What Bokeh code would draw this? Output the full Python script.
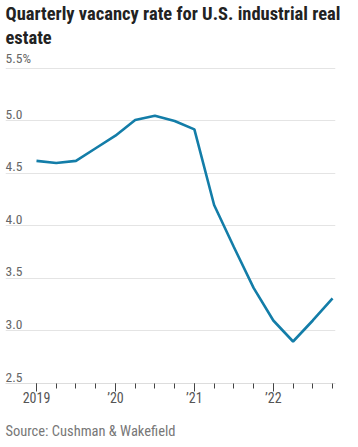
from bokeh.plotting import figure
from bokeh.models import FixedTicker, Title, ColumnDataSource
from bokeh.core.properties import value
from bokeh.embed import file_html
from bokeh.resources import INLINE

quarters = list(range(16))
vacancy = [4.62, 4.60, 4.62, 4.74, 4.86, 5.01, 5.05, 5.00, 4.92, 4.20, 3.80, 3.41, 3.10, 2.90, 3.10, 3.31]
y_ticks = [2.5, 3.0, 3.5, 4.0, 4.5, 5.0, 5.5]
y_labels = ["2.5", "3.0", "3.5", "4.0", "4.5", "5.0", "5.5%"]
x_major = [0, 4, 8, 12]
x_labels = {0: "2019", 4: "\u201920", 8: "\u201921", 12: "\u201922"}

FONT = "Roboto Condensed"
TFONT = "Roboto Condensed"

p = figure(width=342, height=439, output_backend="svg", toolbar_location=None,
           x_range=(-1.57, 15.15), y_range=(2.5, 5.69),
           min_border_left=5, min_border_right=7, min_border_top=0, min_border_bottom=0)
p.outline_line_color = None
p.background_fill_color = "white"
p.title = None

p.line(quarters, vacancy, line_color="#137da8", line_width=2.6)

p.yaxis.visible = False
p.ygrid.ticker = FixedTicker(ticks=y_ticks)
p.ygrid.grid_line_color = "#e4e4e4"
p.ygrid.grid_line_width = 1
p.xgrid.visible = False

src = ColumnDataSource(dict(x=[-1.57] * len(y_ticks), y=y_ticks, t=y_labels))
p.text(x="x", y="y", text="t", source=src, text_font=value(FONT), text_font_size="13.5px",
       text_color="#666666", text_baseline="bottom", text_align="left", y_offset=-2)

ax = p.xaxis[0]
ax.ticker = FixedTicker(ticks=x_major, minor_ticks=quarters)
ax.major_label_overrides = x_labels
ax.axis_line_color = "#dddddd"
ax.major_tick_line_color = "#444444"
ax.minor_tick_line_color = "#444444"
ax.major_tick_in = 0
ax.major_tick_out = 8
ax.minor_tick_in = 0
ax.minor_tick_out = 5
ax.major_label_text_font = FONT
ax.major_label_text_font_size = "14px"
ax.major_label_text_color = "#555555"
ax.major_label_standoff = -2

p.add_layout(Title(text="estate", text_font=TFONT,
                   text_font_size="18.5px", text_font_style="bold", text_color="#222222",
                   offset=0, standoff=0), "above")
p.add_layout(Title(text="Quarterly vacancy rate for U.S. industrial real", text_font=TFONT,
                   text_font_size="18.5px", text_font_style="bold", text_color="#222222",
                   offset=0, standoff=0), "above")
p.add_layout(Title(text=" ", text_font=FONT, text_font_size="1px", text_color="#ffffff",
                   offset=0, standoff=9), "below")
p.add_layout(Title(text="Source: Cushman & Wakefield", text_font=FONT, text_font_size="14.5px",
                   text_font_style="normal", text_color="#777777", offset=0, standoff=0), "below")

open("out.html", "w").write(file_html(p, INLINE))
